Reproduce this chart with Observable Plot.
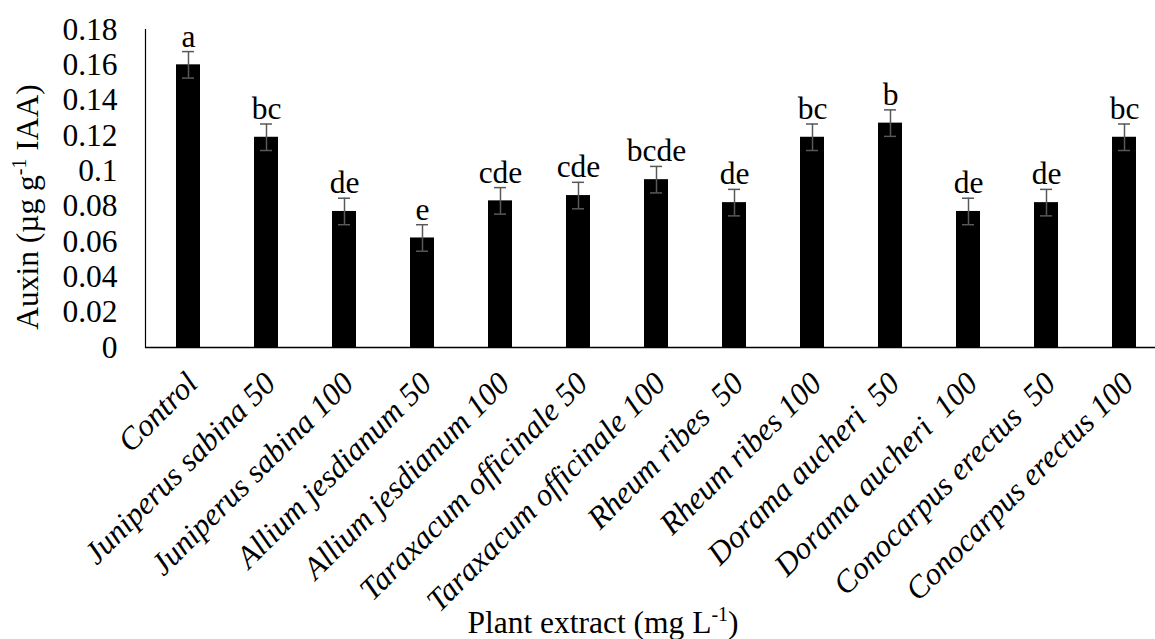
<!DOCTYPE html>
<html><head><meta charset="utf-8">
<script src="https://cdn.jsdelivr.net/npm/d3@7"></script>
<script src="https://cdn.jsdelivr.net/npm/@observablehq/plot@0.6"></script>
<style>
html,body{margin:0;padding:0;background:#fff;overflow:hidden}
svg text{white-space:pre}
svg, svg text{font-family: "Liberation Serif", "Times New Roman", serif !important;}
</style></head><body><div id="chart"></div>
<script>
const categories = ["Control","Juniperus sabina 50","Juniperus sabina 100","Allium jesdianum 50","Allium jesdianum 100","Taraxacum officinale 50","Taraxacum officinale 100","Rheum ribes  50","Rheum ribes 100","Dorama aucheri  50","Dorama aucheri  100","Conocarpus erectus  50","Conocarpus erectus 100"];
const auxin = [0.160, 0.119, 0.077, 0.062, 0.083, 0.086, 0.095, 0.082, 0.119, 0.127, 0.077, 0.082, 0.119];
const stdErr = [0.0075, 0.0075, 0.0075, 0.0075, 0.0075, 0.0075, 0.0075, 0.0075, 0.0075, 0.0075, 0.0075, 0.0075, 0.0075];
const letters = ["a","bc","de","e","cde","cde","bcde","de","bc","b","de","de","bc"];
const yTicks = [0, 0.02, 0.04, 0.06, 0.08, 0.1, 0.12, 0.14, 0.16, 0.18];

const data = categories.map((c, i) => ({c, v: auxin[i], se: stdErr[i], g: letters[i]}));
const FS = 31.5;
const ERR = "#595959";

const svg = Plot.plot({
  width: 1155, height: 639,
  marginTop: 29, marginBottom: 292, marginLeft: 145, marginRight: 0,
  style: {background: "#fff", color: "#000", overflow: "visible"},
  x: {type: "band", domain: categories, range: [145, 1167], paddingInner: 0.695, paddingOuter: 0.3475, axis: null},
  y: {domain: [0, 0.18], axis: null},
  marks: [
    Plot.barY(data, {x: "c", y: "v", fill: "#000"}),
    Plot.ruleX(data, {x: "c", y1: d => d.v - d.se, y2: d => d.v + d.se, stroke: ERR, strokeWidth: 1.5}),
    Plot.tickY(data, {x: "c", y: d => d.v + d.se, stroke: ERR, strokeWidth: 1.5, insetLeft: 6, insetRight: 6}),
    Plot.tickY(data, {x: "c", y: d => d.v - d.se, stroke: ERR, strokeWidth: 1.5, insetLeft: 6, insetRight: 6}),
    Plot.text(data, {x: "c", y: d => d.v + d.se, text: "g", lineAnchor: "bottom", dy: -5, fontSize: FS, fill: "#000"}),
    Plot.axisY({ticks: yTicks, tickSize: 0, tickPadding: 28, tickFormat: d => String(+d.toFixed(2)), fontSize: FS, label: null, fill: "#000"}),
    Plot.frame({anchor: "left", stroke: "#000", strokeWidth: 1.2}),
    Plot.ruleY([0], {stroke: "#000", strokeWidth: 1.5}),
    Plot.text(data, {x: "c", text: "c", frameAnchor: "bottom", textAnchor: "end", lineAnchor: "top", rotate: -45, dy: 22, dx: -5, fontSize: FS, fontStyle: "italic", fill: "#000"})
  ]
});
document.getElementById("chart").appendChild(svg);

const s = d3.select(svg);
const yt = s.append("text")
  .attr("transform", "translate(38,207) rotate(-90)")
  .attr("text-anchor", "middle")
  .attr("font-size", FS).attr("fill", "#000");
yt.append("tspan").text("Auxin (µg g");
yt.append("tspan").attr("dy", -12).attr("font-size", 20).text("-1");
yt.append("tspan").attr("dy", 12).text(" IAA)");
const xt = s.append("text")
  .attr("x", 603).attr("y", 633)
  .attr("text-anchor", "middle")
  .attr("font-size", FS).attr("fill", "#000");
xt.append("tspan").text("Plant extract (mg L");
xt.append("tspan").attr("dy", -12).attr("font-size", 20).text("-1");
xt.append("tspan").attr("dy", 12).text(")");
</script>
</body></html>
